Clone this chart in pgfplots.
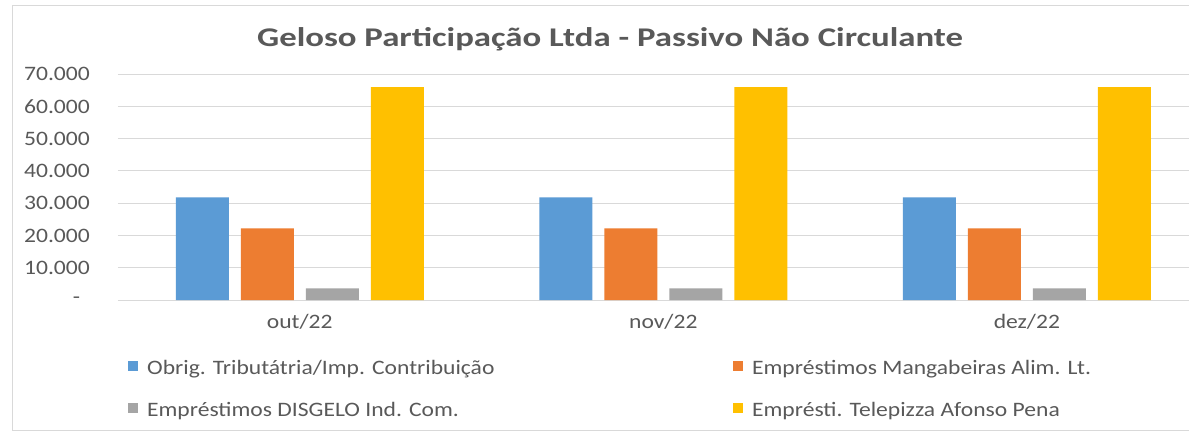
\documentclass[border=0pt]{standalone}
\usepackage{fontspec}
\setmainfont{Carlito}[FakeStretch=1.15]
\usepackage{pgfplots}
\pgfplotsset{compat=1.18}

\definecolor{sBlue}{HTML}{5B9BD5}
\definecolor{sOrange}{HTML}{ED7D31}
\definecolor{sGray}{HTML}{A5A5A5}
\definecolor{sYellow}{HTML}{FFC000}
\definecolor{txtGray}{HTML}{595959}
\definecolor{gridGray}{HTML}{D9D9D9}

\newcommand{\legtext}[1]{\hspace{9pt}\makebox[586pt][l]{#1}}

\begin{document}
\begin{tikzpicture}[x=1pt,y=1pt]
% origin = lower left corner of the plot area
\begin{scope}
\clip (-118,-131) rectangle (1071,300);
\fill[white] (-118,-131) rectangle (1071,300);
\draw[gridGray, line width=1pt] (-105,-130) rectangle (1150,294);
\node[font=\fontsize{27}{31}\selectfont\bfseries, text=txtGray, anchor=base]
  at (492,253) {\scalebox{1.12}[1]{Geloso Participação Ltda - Passivo Não Circulante}};

\begin{axis}[
  at={(0,0)}, anchor=south west,
  scale only axis, width=1071pt, height=226pt,
  xmin=-0.5, xmax=2.446, ymin=0, ymax=70000,
  ybar=12pt, bar width=53pt,
  axis line style={draw=none},
  tick style={draw=none},
  scaled y ticks=false,
  ymajorgrids, major grid style={gridGray, line width=1pt},
  xtick={0,1,2}, xticklabels={out/22,nov/22,dez/22},
  ytick={0,10000,20000,30000,40000,50000,60000,70000},
  yticklabels={\makebox[17pt][l]{-},10.000,20.000,30.000,40.000,50.000,60.000,70.000},
  tick label style={font=\fontsize{20.5}{24}\selectfont, text=txtGray},
  yticklabel style={inner sep=0pt, anchor=east, xshift=-28pt},
  xticklabel style={inner sep=0pt, anchor=base, yshift=-24pt},
  legend columns=2,
  legend style={at={(axis description cs:0.0093,-0.407)}, anchor=west,
    draw=none, fill=none, inner sep=0pt, column sep=0pt, row sep=22pt,
    font=\fontsize{20.5}{24}\selectfont, text=txtGray,
    nodes={inner sep=0pt, text height=14pt, text depth=6pt}},
  legend cell align=left,
  legend image code/.code={\fill[#1, draw=none] (0pt,0pt) rectangle (10pt,10pt);},
]
\addplot[fill=sBlue, draw=none] coordinates {(0,31800) (1,31800) (2,31800)};
\addplot[fill=sOrange, draw=none] coordinates {(0,22200) (1,22200) (2,22200)};
\addplot[fill=sGray, draw=none] coordinates {(0,3600) (1,3600) (2,3600)};
\addplot[fill=sYellow, draw=none] coordinates {(0,65900) (1,65900) (2,65900)};
\legend{\legtext{Obrig. Tributátria/Imp. Contribuição},
        \legtext{Empréstimos Mangabeiras Alim. Lt.},
        \legtext{Empréstimos DISGELO Ind. Com.},
        \legtext{Empr\'esti. Telepizza Afonso Pena}}
\end{axis}
\end{scope}
\pgfresetboundingbox
\useasboundingbox (-118,-131) rectangle (1071,300);
\end{tikzpicture}
\end{document}
